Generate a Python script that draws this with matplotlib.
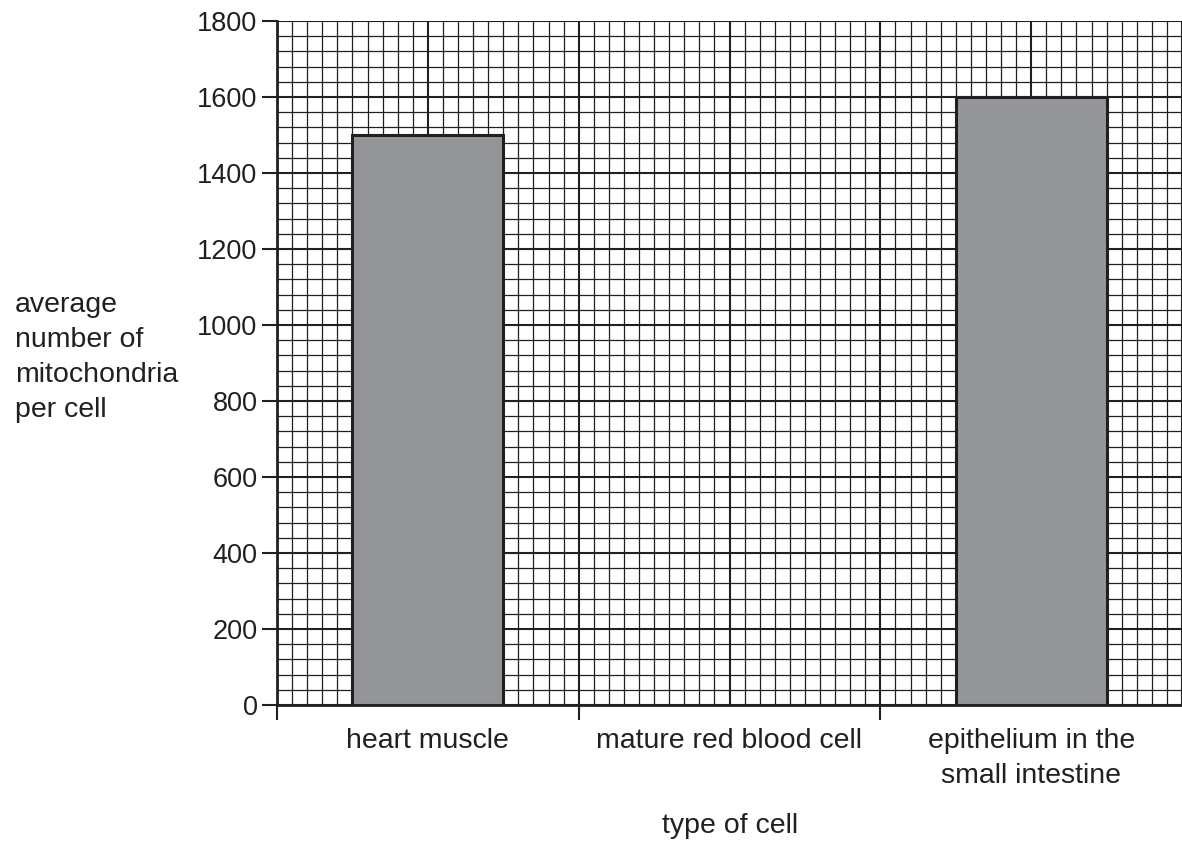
import numpy as np
import matplotlib.pyplot as plt

plt.rcParams['font.family'] = ['Liberation Sans', 'DejaVu Sans']

# data
cell_types = ['heart muscle', 'mature red blood cell', 'epithelium in the\nsmall intestine']
mito_counts = [1500, 0, 1600]
y_ticks = [0, 200, 400, 600, 800, 1000, 1200, 1400, 1600, 1800]

ink = '#231f20'
fig = plt.figure(figsize=(11.82, 8.44), dpi=100)
ax = fig.add_axes([277 / 1182, 139 / 844, 905 / 1182, 684 / 844])

# graph paper grid
for xv in np.arange(0, 3.001, 0.05):
    major = abs(xv / 0.5 - round(xv / 0.5)) < 1e-6
    ax.axvline(xv, color=ink, lw=1.5 if major else 0.9, zorder=0)
for yv in np.arange(0, 1800.1, 40):
    major = abs(yv / 200 - round(yv / 200)) < 1e-6
    ax.axhline(yv, color=ink, lw=1.5 if major else 0.9, zorder=0)

xpos = np.arange(len(cell_types)) + 0.5
heights = [v if v > 0 else np.nan for v in mito_counts]
ax.bar(xpos, heights, width=0.5, color='#939598', edgecolor=ink, linewidth=2.2, zorder=3)

ax.set_xlim(0, 3)
ax.set_ylim(0, 1800)
ax.set_yticks(y_ticks)
ax.set_yticklabels([str(v) for v in y_ticks], fontsize=19.5, color=ink)
ax.set_xticks([0, 1, 2])
ax.set_xticklabels([])
ax.tick_params(axis='both', direction='out', length=11, width=1.5, color=ink)
ax.tick_params(axis='y', pad=3)
for x, lab in zip(xpos, cell_types):
    ax.text(x, -60, lab, ha='center', va='top', fontsize=20.5, color=ink,
            linespacing=1.45, transform=ax.transData)

for s in ['top', 'right']:
    ax.spines[s].set_visible(False)
for s in ['left', 'bottom']:
    ax.spines[s].set_linewidth(2)
    ax.spines[s].set_color(ink)
    ax.spines[s].set_zorder(5)

fig.text(15 / 1182, 1 - 357 / 844, 'average\nnumber of\nmitochondria\nper cell',
         ha='left', va='center', fontsize=20.5, color=ink, linespacing=1.45)
fig.text(730 / 1182, 1 - 826 / 844, 'type of cell', ha='center', va='center',
         fontsize=20.5, color=ink)

fig.savefig('out.png', dpi=100)
